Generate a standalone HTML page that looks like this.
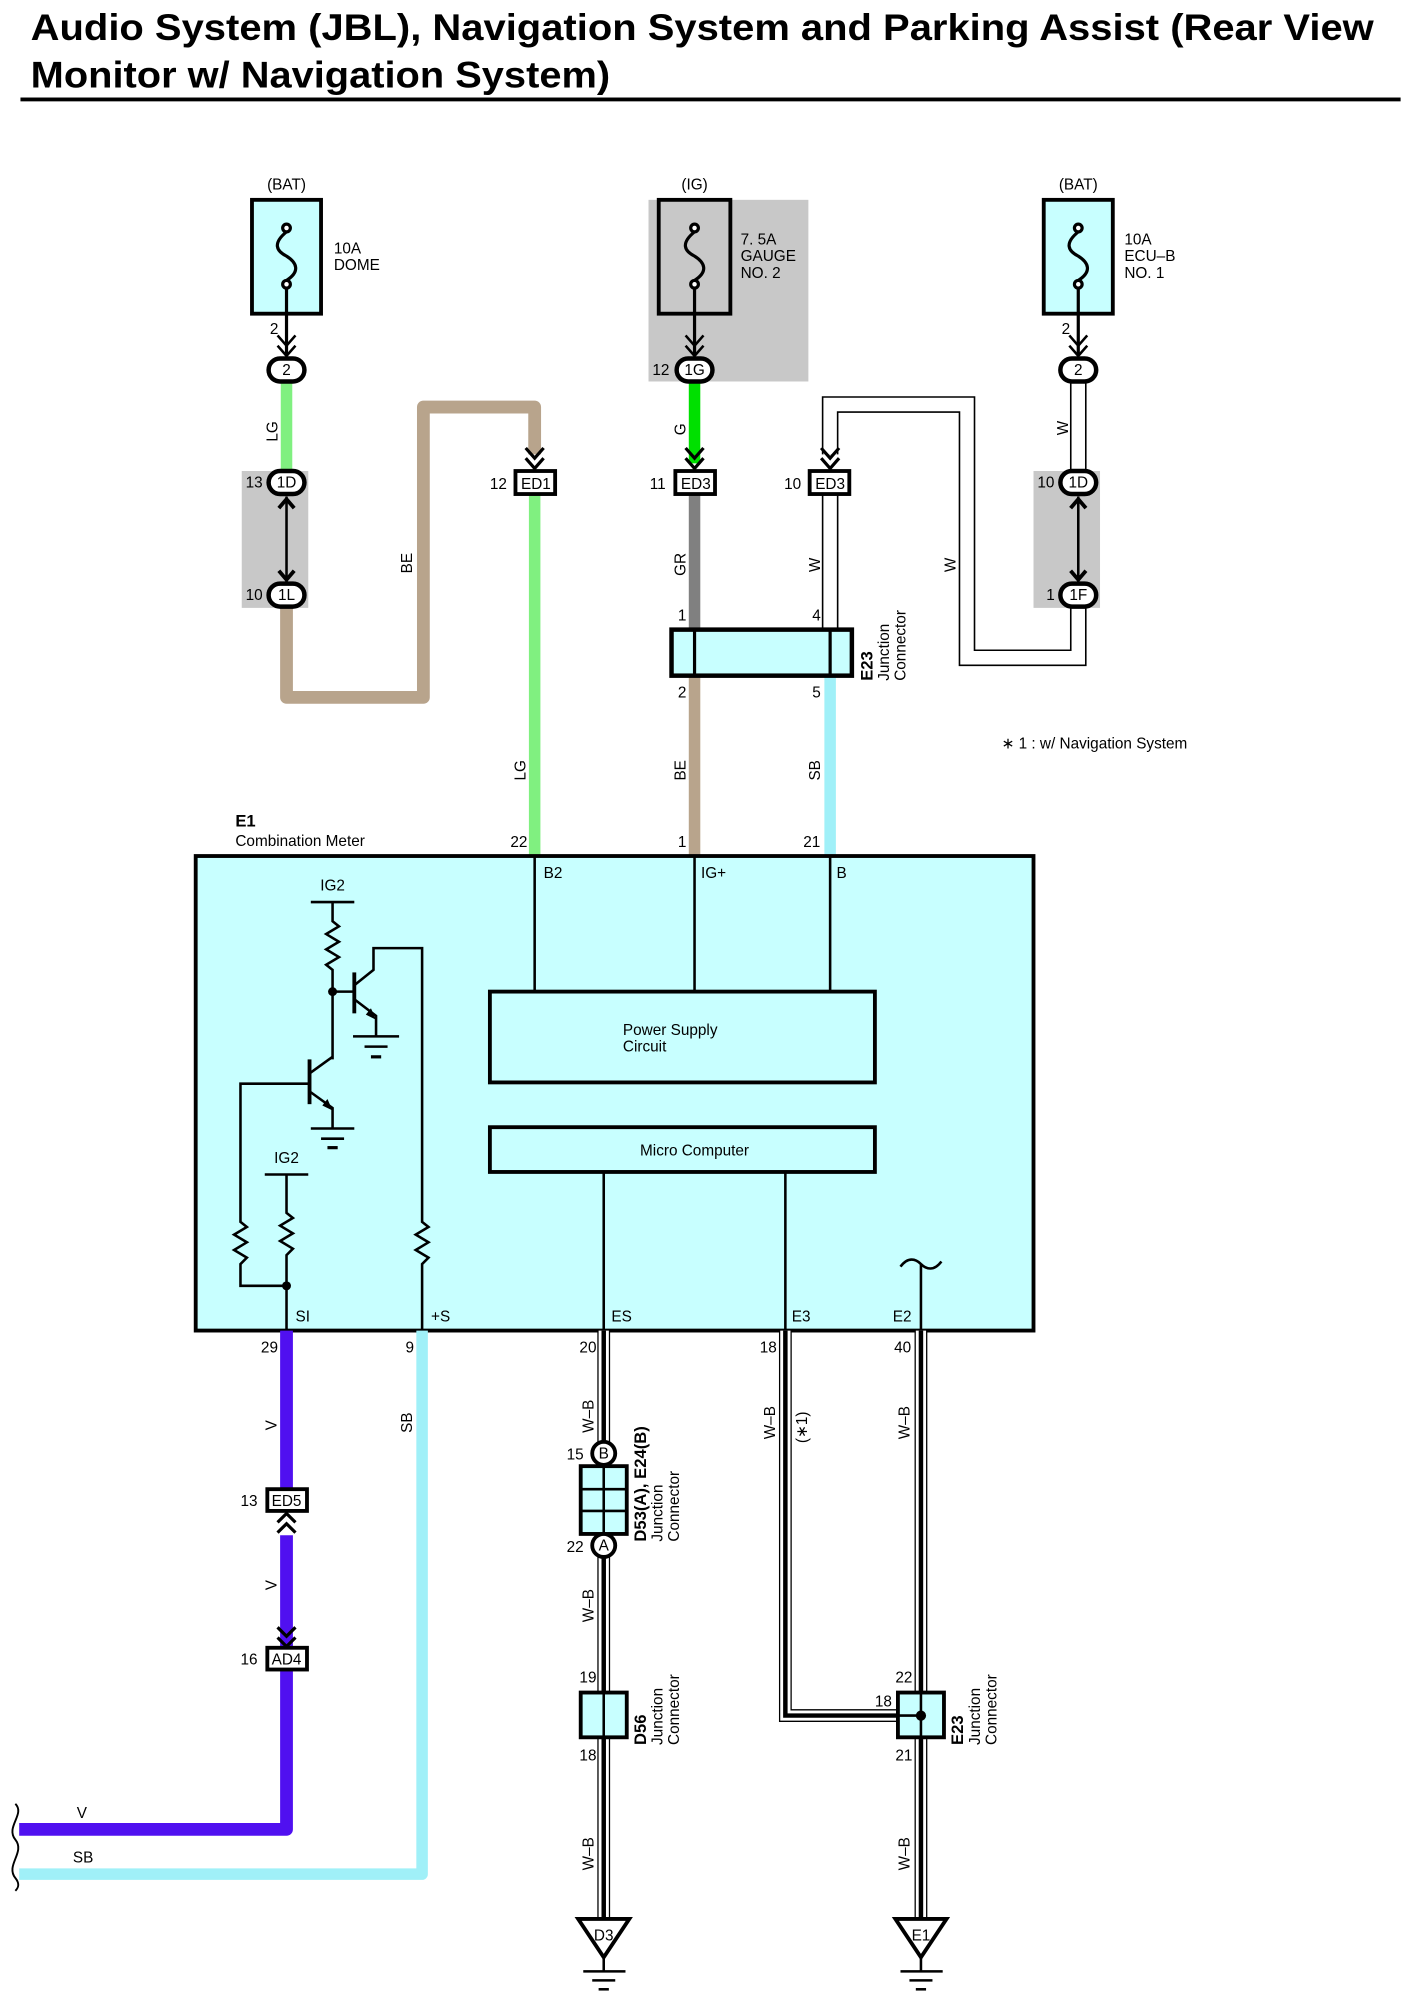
<!DOCTYPE html>
<html><head><meta charset="utf-8"><style>
html,body{margin:0;padding:0;background:#fff;}
svg{display:block;}
text{font-family:"Liberation Sans",Arial,sans-serif;font-size:12px;fill:#000;}
.t{font-size:29px;font-weight:bold;}
.b{font-weight:bold;font-size:13px;}
</style></head><body>
<svg width="1407" height="1996" viewBox="0 0 1100 1560" xmlns="http://www.w3.org/2000/svg">
<rect width="1100" height="1560" fill="#fff"/>
<text class="t" x="24" y="31" textLength="1050" lengthAdjust="spacingAndGlyphs">Audio System (JBL), Navigation System and Parking Assist (Rear View</text>
<text class="t" x="24" y="68" textLength="453" lengthAdjust="spacingAndGlyphs">Monitor w/ Navigation System)</text>
<rect x="16" y="76" width="1079" height="3" fill="#000"/>

<rect x="507" y="156" width="125" height="142" fill="#c8c8c8"/>
<rect x="189" y="368" width="52" height="107" fill="#c8c8c8"/>
<rect x="808" y="368" width="52" height="107" fill="#c8c8c8"/>

<g stroke="#000" stroke-width="3">
<rect x="197" y="156" width="54" height="89" fill="#c8ffff"/>
<rect x="515" y="156" width="56" height="89" fill="#c8c8c8"/>
<rect x="816" y="156" width="54" height="89" fill="#c8ffff"/>
</g>
<g fill="none" stroke="#000" stroke-width="2.5">
<path d="M224,181 C213,190 216,196 224,200 C232,205 235,212 224,219"/>
<path d="M543,181 C532,190 535,196 543,200 C551,205 554,212 543,219"/>
<path d="M843,181 C832,190 835,196 843,200 C851,205 854,212 843,219"/>
<circle cx="224" cy="178" r="3" fill="#fff"/><circle cx="224" cy="222" r="3" fill="#fff"/>
<circle cx="543" cy="178" r="3" fill="#fff"/><circle cx="543" cy="222" r="3" fill="#fff"/>
<circle cx="843" cy="178" r="3" fill="#fff"/><circle cx="843" cy="222" r="3" fill="#fff"/>
<line x1="224" y1="225" x2="224" y2="278"/><line x1="543" y1="225" x2="543" y2="278"/><line x1="843" y1="225" x2="843" y2="278"/>
</g>
<text x="224" y="148" text-anchor="middle">(BAT)</text>
<text x="543" y="148" text-anchor="middle">(IG)</text>
<text x="843" y="148" text-anchor="middle">(BAT)</text>
<text x="261" y="198">10A</text><text x="261" y="211">DOME</text>
<text x="579" y="191">7. 5A</text><text x="579" y="204">GAUGE</text><text x="579" y="217">NO. 2</text>
<text x="879" y="191">10A</text><text x="879" y="204">ECU–B</text><text x="879" y="217">NO. 1</text>
<text x="211" y="261">2</text><text x="830" y="261">2</text>

<g fill="none" stroke-linejoin="round">
<line x1="224" y1="299" x2="224" y2="368" stroke="#80f080" stroke-width="9"/>
<path d="M224,475 V545 H331 V318 H418 V355" stroke="#b8a48c" stroke-width="10"/>
<line x1="418" y1="386" x2="418" y2="669" stroke="#80f080" stroke-width="9"/>
<line x1="543" y1="299" x2="543" y2="362" stroke="#00e000" stroke-width="9"/>
<line x1="543" y1="386" x2="543" y2="492" stroke="#808080" stroke-width="9"/>
<line x1="543" y1="528" x2="543" y2="669" stroke="#b8a48c" stroke-width="9"/>
<line x1="649" y1="528" x2="649" y2="669" stroke="#a0f0f8" stroke-width="9"/>
<path d="M649,355 V316 H756 V514 H843 V475 M843,299 V368" stroke="#000" stroke-width="13" stroke-linejoin="miter"/>
<path d="M649,355 V316 H756 V514 H843 V475 M843,299 V368" stroke="#fff" stroke-width="10.5" stroke-linejoin="miter"/>
<line x1="649" y1="386" x2="649" y2="492" stroke="#000" stroke-width="13"/>
<line x1="649" y1="386" x2="649" y2="492" stroke="#fff" stroke-width="10.5"/>
</g>
<g stroke="#000" stroke-width="2" fill="none">
<line x1="224" y1="388" x2="224" y2="455"/>
<polyline points="217,262 224,270 231,262"/><polyline points="217,270 224,278 231,270"/>
<polyline points="536,262 543,270 550,262"/><polyline points="536,270 543,278 550,270"/>
<polyline points="836,262 843,270 850,262"/><polyline points="836,270 843,278 850,270"/>
<polyline points="218,397 224,390 230,397" stroke-width="3"/>
<polyline points="218,446 224,453 230,446" stroke-width="3"/>
<line x1="843" y1="388" x2="843" y2="455"/>
<polyline points="837,397 843,390 849,397" stroke-width="3"/>
<polyline points="837,446 843,453 849,446" stroke-width="3"/>
</g>
<g stroke="#000" stroke-width="2.5" fill="none">
<polyline points="411,350 418,358 425,350"/><polyline points="411,358 418,366 425,358"/>
<polyline points="536,350 543,358 550,350"/><polyline points="536,358 543,366 550,358"/>
<polyline points="642,350 649,358 656,350"/><polyline points="642,358 649,366 656,358"/>
</g>
<g stroke="#000" stroke-width="3.5" fill="#fff">
<rect x="210" y="280" width="28" height="18" rx="9"/>
<rect x="529" y="280" width="28" height="18" rx="9"/>
<rect x="829" y="280" width="28" height="18" rx="9"/>
<rect x="210" y="368" width="28" height="18" rx="9"/>
<rect x="210" y="456" width="28" height="18" rx="9"/>
<rect x="829" y="368" width="28" height="18" rx="9"/>
<rect x="829" y="456" width="28" height="18" rx="9"/>
</g>
<g text-anchor="middle">
<text x="224" y="293">2</text><text x="543" y="293">1G</text><text x="843" y="293">2</text>
<text x="224" y="381">1D</text><text x="224" y="469">1L</text>
<text x="843" y="381">1D</text><text x="843" y="469">1F</text>
</g>
<text x="510" y="293">12</text>
<text x="192" y="381">13</text><text x="192" y="469">10</text>
<text x="811" y="381">10</text><text x="818" y="469">1</text>
<g stroke="#000" stroke-width="3" fill="#fff">
<rect x="403" y="368" width="31" height="18"/>
<rect x="528" y="368" width="31" height="18"/>
<rect x="633" y="368" width="31" height="18"/>
</g>
<g text-anchor="middle">
<text x="419" y="382">ED1</text><text x="544" y="382">ED3</text><text x="649" y="382">ED3</text>
</g>
<text x="383" y="382">12</text><text x="508" y="382">11</text><text x="613" y="382">10</text>

<rect x="525" y="492" width="141" height="36" fill="#c8ffff" stroke="#000" stroke-width="3.5"/>
<line x1="543" y1="492" x2="543" y2="528" stroke="#000" stroke-width="2.5"/>
<line x1="649" y1="492" x2="649" y2="528" stroke="#000" stroke-width="2.5"/>
<text x="530" y="485">1</text><text x="635" y="485">4</text>
<text x="530" y="545">2</text><text x="635" y="545">5</text>
<text class="b" transform="translate(682,532) rotate(-90)">E23</text>
<text transform="translate(695,532) rotate(-90)">Junction</text>
<text transform="translate(708,532) rotate(-90)">Connector</text>
<text x="783" y="585">∗ 1 : w/ Navigation System</text>

<g>
<text transform="translate(217,345) rotate(-90)">LG</text>
<text transform="translate(322,448) rotate(-90)">BE</text>
<text transform="translate(411,610) rotate(-90)">LG</text>
<text transform="translate(536,340) rotate(-90)">G</text>
<text transform="translate(536,450) rotate(-90)">GR</text>
<text transform="translate(536,610) rotate(-90)">BE</text>
<text transform="translate(641,447) rotate(-90)">W</text>
<text transform="translate(747,447) rotate(-90)">W</text>
<text transform="translate(835,340) rotate(-90)">W</text>
<text transform="translate(641,610) rotate(-90)">SB</text>
</g>

<text class="b" x="184" y="646">E1</text>
<text x="184" y="661">Combination Meter</text>
<text x="399" y="662">22</text><text x="530" y="662">1</text><text x="628" y="662">21</text>

<rect x="153" y="669" width="655" height="371" fill="#c8ffff" stroke="#000" stroke-width="3"/>
<g stroke="#000" stroke-width="2" fill="none">
<line x1="418" y1="669" x2="418" y2="775"/>
<line x1="543" y1="669" x2="543" y2="775"/>
<line x1="649" y1="669" x2="649" y2="775"/>
<line x1="472" y1="916" x2="472" y2="1040"/>
<line x1="614" y1="916" x2="614" y2="1040"/>
<line x1="720" y1="988" x2="720" y2="1040"/>
<path d="M704,990 C710,982 716,984 720,988 C724,992 730,994 736,986"/>
</g>
<rect x="383" y="775" width="301" height="71" fill="#c8ffff" stroke="#000" stroke-width="3"/>
<rect x="383" y="881" width="301" height="35" fill="#c8ffff" stroke="#000" stroke-width="3"/>
<text x="487" y="809">Power Supply</text><text x="487" y="822">Circuit</text>
<text x="543" y="903" text-anchor="middle">Micro Computer</text>
<text x="425" y="686">B2</text><text x="548" y="686">IG+</text><text x="654" y="686">B</text>
<text x="231" y="1033">SI</text><text x="337" y="1033">+S</text><text x="478" y="1033">ES</text><text x="619" y="1033">E3</text><text x="698" y="1033">E2</text>

<g stroke="#000" stroke-width="2" fill="none">
<line x1="243" y1="705" x2="277" y2="705"/>
<polyline points="260,705 260,720 265,724 255,730 265,736 255,742 265,748 255,754 260,758 260,828"/>
<line x1="260" y1="775" x2="277" y2="775"/>
<line x1="277" y1="760" x2="277" y2="792" stroke-width="3"/>
<polyline points="277,770 292,758 292,741 330,741 330,955 335,959 325,965 335,971 325,977 335,983 330,988 330,1040"/>
<polyline points="277,781 294,794 294,810"/>
<line x1="276" y1="810" x2="312" y2="810"/>
<line x1="285" y1="818" x2="303" y2="818"/>
<line x1="290" y1="826" x2="298" y2="826" stroke-width="2.5"/>
<line x1="242" y1="828" x2="242" y2="863" stroke-width="3"/>
<polyline points="242,839 260,826"/>
<polyline points="242,853 260,866 260,882"/>
<line x1="243" y1="882" x2="277" y2="882"/>
<line x1="251" y1="890" x2="269" y2="890"/>
<line x1="256" y1="897" x2="264" y2="897" stroke-width="2.5"/>
<polyline points="242,847 188,847 188,955 193,959 183,965 193,971 183,977 193,983 188,988 188,1005 224,1005"/>
<line x1="207" y1="918" x2="241" y2="918"/>
<polyline points="224,918 224,948 229,952 219,958 229,964 219,970 229,976 224,981 224,1040"/>
</g>
<polygon points="294,797 286,793 290,788" fill="#000"/>
<polygon points="260,868 252,864 256,859" fill="#000"/>
<circle cx="260" cy="775" r="3.5" fill="#000"/>
<circle cx="224" cy="1005" r="3.5" fill="#000"/>
<text x="260" y="696" text-anchor="middle">IG2</text>
<text x="224" y="909" text-anchor="middle">IG2</text>

<g fill="none" stroke-linejoin="round">
<path d="M224,1040 V1164 M224,1200 V1288 M224,1305 V1430 H15" stroke="#5010f0" stroke-width="10"/>
<path d="M330,1040 V1465 H15" stroke="#a0f0f8" stroke-width="9"/>
</g>
<g stroke="#000" stroke-width="2.5" fill="none">
<polyline points="217,1190 224,1183 231,1190"/><polyline points="217,1198 224,1191 231,1198"/>
<polyline points="217,1272 224,1279 231,1272"/><polyline points="217,1280 224,1287 231,1280"/>
<path d="M12,1410 C20,1418 4,1428 12,1438 C20,1448 4,1458 12,1468 C16,1473 14,1476 12,1478" stroke-width="1.5"/>
</g>
<g stroke="#000" stroke-width="3" fill="#fff">
<rect x="209" y="1164" width="31" height="17"/>
<rect x="209" y="1288" width="31" height="17"/>
</g>
<text x="224" y="1177" text-anchor="middle">ED5</text>
<text x="224" y="1301" text-anchor="middle">AD4</text>
<text x="188" y="1177">13</text><text x="188" y="1301">16</text>
<text x="204" y="1057">29</text><text x="317" y="1057">9</text>
<text x="453" y="1057">20</text><text x="594" y="1057">18</text><text x="699" y="1057">40</text>
<text transform="translate(216,1118) rotate(-90)">V</text>
<text transform="translate(216,1243) rotate(-90)">V</text>
<text transform="translate(322,1120) rotate(-90)">SB</text>
<text x="60" y="1421">V</text><text x="57" y="1456">SB</text>

<g fill="none" stroke-linejoin="miter">
<path d="M472,1040 V1500 M614,1040 V1341 H720 M720,1040 V1500" stroke="#000" stroke-width="10"/>
<path d="M472,1040 V1500 M614,1040 V1341 H720 M720,1040 V1500" stroke="#fff" stroke-width="8"/>
<path d="M472,1040 V1500 M614,1040 V1341 H720 M720,1040 V1500" stroke="#000" stroke-width="3.5"/>
</g>
<g stroke="#000" stroke-width="3">
<rect x="454" y="1146" width="36" height="53" fill="#c8ffff"/>
<circle cx="472" cy="1136" r="9" fill="#fff"/>
<circle cx="472" cy="1208" r="9" fill="#fff"/>
<rect x="454" y="1323" width="36" height="35" fill="#c8ffff"/>
<rect x="702" y="1323" width="36" height="35" fill="#c8ffff"/>
</g>
<g stroke="#000" stroke-width="2">
<line x1="472" y1="1146" x2="472" y2="1199"/>
<line x1="454" y1="1164" x2="490" y2="1164"/>
<line x1="454" y1="1181" x2="490" y2="1181"/>
<line x1="472" y1="1323" x2="472" y2="1358"/>
<line x1="720" y1="1323" x2="720" y2="1358"/>
<line x1="702" y1="1341" x2="720" y2="1341"/>
</g>
<circle cx="720" cy="1341" r="4" fill="#000"/>
<text x="472" y="1140" text-anchor="middle" font-size="11">B</text>
<text x="472" y="1212" text-anchor="middle" font-size="11">A</text>
<text x="443" y="1141">15</text><text x="443" y="1213">22</text>
<text x="453" y="1315">19</text><text x="453" y="1376">18</text>
<text x="700" y="1315">22</text><text x="684" y="1334">18</text><text x="700" y="1376">21</text>
<text class="b" transform="translate(505,1205) rotate(-90)">D53(A), E24(B)</text>
<text transform="translate(518,1205) rotate(-90)">Junction</text>
<text transform="translate(531,1205) rotate(-90)">Connector</text>
<text class="b" transform="translate(505,1364) rotate(-90)">D56</text>
<text transform="translate(518,1364) rotate(-90)">Junction</text>
<text transform="translate(531,1364) rotate(-90)">Connector</text>
<text class="b" transform="translate(753,1364) rotate(-90)">E23</text>
<text transform="translate(766,1364) rotate(-90)">Junction</text>
<text transform="translate(779,1364) rotate(-90)">Connector</text>
<text transform="translate(464,1120) rotate(-90)">W–B</text>
<text transform="translate(464,1268) rotate(-90)">W–B</text>
<text transform="translate(464,1462) rotate(-90)">W–B</text>
<text transform="translate(606,1125) rotate(-90)">W–B</text>
<text transform="translate(631,1128) rotate(-90)">(∗1)</text>
<text transform="translate(711,1125) rotate(-90)">W–B</text>
<text transform="translate(711,1462) rotate(-90)">W–B</text>

<g stroke="#000" stroke-width="3" fill="#fff" stroke-linejoin="miter">
<polygon points="452,1500 492,1500 472,1530"/>
<polygon points="700,1500 740,1500 720,1530"/>
</g>
<g stroke="#000" stroke-width="2">
<line x1="472" y1="1530" x2="472" y2="1541"/>
<line x1="456" y1="1541" x2="489" y2="1541"/><line x1="463" y1="1548" x2="481" y2="1548"/><line x1="468" y1="1555" x2="476" y2="1555"/>
<line x1="720" y1="1530" x2="720" y2="1541"/>
<line x1="704" y1="1541" x2="737" y2="1541"/><line x1="711" y1="1548" x2="729" y2="1548"/><line x1="716" y1="1555" x2="724" y2="1555"/>
</g>
<text x="472" y="1517" text-anchor="middle">D3</text>
<text x="720" y="1517" text-anchor="middle">E1</text>
</svg>
</body></html>
